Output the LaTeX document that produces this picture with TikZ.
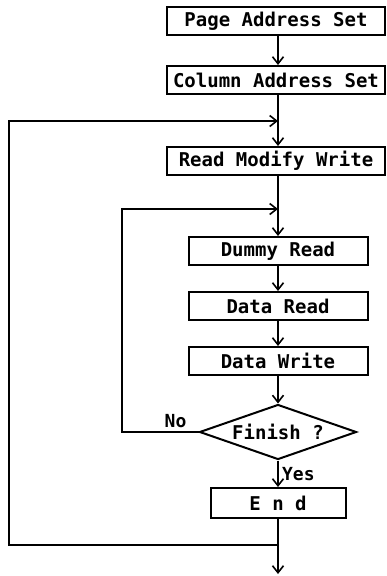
\documentclass[tikz,border=0pt]{standalone}
\usepackage{fontspec}
\setmonofont{DejaVu Sans Mono}
\usetikzlibrary{positioning,shapes.geometric,arrows.meta}

\begin{document}
\begin{tikzpicture}[
    x=1pt,y=-1pt,
    box/.style={rectangle,draw,line width=2pt,minimum height=28pt,inner sep=0pt,font=\ttfamily\bfseries\fontsize{19}{19}\selectfont},
    dec/.style={diamond,draw,line width=2pt,aspect=2.85,minimum width=157pt,minimum height=55pt,inner sep=0pt,font=\ttfamily\bfseries\fontsize{19}{19}\selectfont},
    flow/.style={line width=1.6pt,-{Straight Barb[length=7pt,width=11pt,line width=1.6pt]}},
    line/.style={line width=1.6pt},
    lab/.style={font=\ttfamily\bfseries\fontsize{18}{18}\selectfont}
]
\useasboundingbox (0,0) rectangle (387,576);

% main column
\node[box,minimum width=218pt] (page) at (276,21) {Page Address Set};
\node[box,minimum width=218pt] (col)  at (276,80) {Column Address Set};
\node[box,minimum width=218pt] (rmw)  at (276,161) {Read Modify Write};
\node[box,minimum width=179pt] (dummy) at (278,251) {Dummy Read};
\node[box,minimum width=179pt] (dread) at (278,306) {Data Read};
\node[box,minimum width=179pt] (dwrite) at (278,361) {Data Write};
\node[dec] (fin) at (278,432) {Finish ?};
\node[box,minimum width=135pt,minimum height=30pt] (end) at (278,503) {E n d};

% join points
\coordinate (j1) at (278,121);
\coordinate (j2) at (278,209);
\coordinate (j3) at (278,545);
\coordinate (out) at (278,574);

% straight flow
\draw[flow] (page.south -| j1) -- (col.north -| j1);
\draw[line] (col.south -| j1) -- (j1);
\draw[flow] (j1) -- (rmw.north -| j1);
\draw[line] (rmw.south -| j1) -- (j2);
\draw[flow] (j2) -- (dummy.north);
\draw[flow] (dummy) -- (dread);
\draw[flow] (dread) -- (dwrite);
\draw[flow] (dwrite) -- (fin);
\draw[flow] (fin) -- node[lab,right=0pt]{Yes} (end);
\draw[line] (end) -- (j3);
\draw[flow] (j3) -- (out);

% inner loop
\draw[flow] (fin.west) -- node[lab,above=0pt,pos=0.3]{No} (122,432) -- (122,209) -- (j2);

% outer loop
\draw[flow] (j3) -- (9,545) -- (9,121) -- (j1);

\end{tikzpicture}
\end{document}
